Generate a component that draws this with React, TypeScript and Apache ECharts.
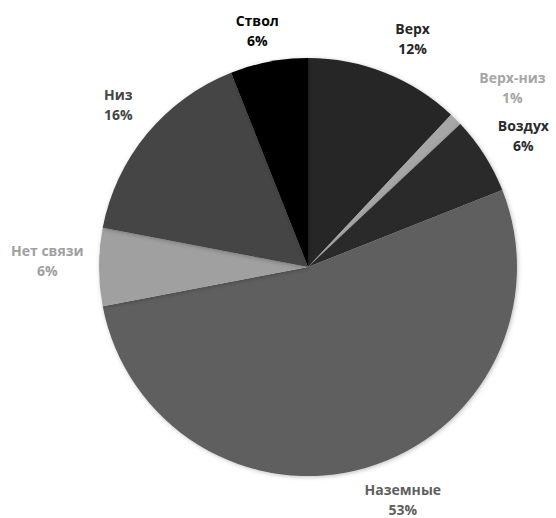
import React, { useEffect, useRef } from "react";
import * as echarts from "echarts";

const categories = ["Верх", "Верх-низ", "Воздух", "Наземные", "Нет связи", "Низ", "Ствол"];
const values = [12, 1, 6, 53, 6, 16, 6];
const colors = ["#262626", "#a6a6a6", "#2b2b2b", "#5f5f5f", "#a0a0a0", "#454545", "#050505"];

// label placement tweaks (degrees of angle shift, pixels of radial shift), mimicking Excel best-fit
const labelAngleShift = [3, 3.7, 1, -6, 1.5, 1, -1.3];
const labelRadialShift = [0, 8, -6, -8, -2, 0, -8];

const CX = 308;
const CY = 267;
const R = 209;
const GAP = 17;

export default function App() {
  const ref = useRef<HTMLDivElement>(null);
  useEffect(() => {
    document.body.style.margin = "0";
    if (!ref.current) return;
    const chart = echarts.init(ref.current, null, { renderer: "svg" });
    const total = values.reduce((a, b) => a + b, 0);
    const cum: number[] = [];
    let acc = 0;
    values.forEach((v) => {
      cum.push(acc + v / 2);
      acc += v;
    });
    chart.setOption({
      animation: false,
      backgroundColor: "#ffffff",
      series: [
        {
          type: "pie",
          center: [CX, CY],
          radius: R,
          startAngle: 90,
          clockwise: true,
          avoidLabelOverlap: false,
          itemStyle: {
            borderWidth: 0,
            shadowBlur: 4,
            shadowColor: "rgba(0,0,0,0.25)",
            shadowOffsetX: 1,
            shadowOffsetY: 1,
          },
          label: {
            show: true,
            position: "outside",
            formatter: (p: any) => `${p.name}\n${p.value}%`,
            fontFamily: "Open Sans",
            fontWeight: "bold",
            fontSize: 14,
            lineHeight: 20,
          },
          labelLine: { show: false },
          labelLayout: (params: any) => {
            const i = params.dataIndex;
            const a = (cum[i] / total) * Math.PI * 2 + (labelAngleShift[i] * Math.PI) / 180;
            const s = Math.sin(a);
            const c = Math.cos(a);
            const w = params.labelRect.width / 2;
            const h = params.labelRect.height / 2;
            const d = R + GAP + Math.abs(s) * w + Math.abs(c) * h + labelRadialShift[i];
            return {
              x: CX + s * d,
              y: CY - c * d,
              align: "center",
              verticalAlign: "middle",
            };
          },
          data: categories.map((name, i) => ({
            name,
            value: values[i],
            itemStyle: { color: colors[i] },
            label: { color: colors[i] },
          })),
        },
      ],
    });
    return () => chart.dispose();
  }, []);
  return <div ref={ref} style={{ width: 556, height: 518 }} />;
}
